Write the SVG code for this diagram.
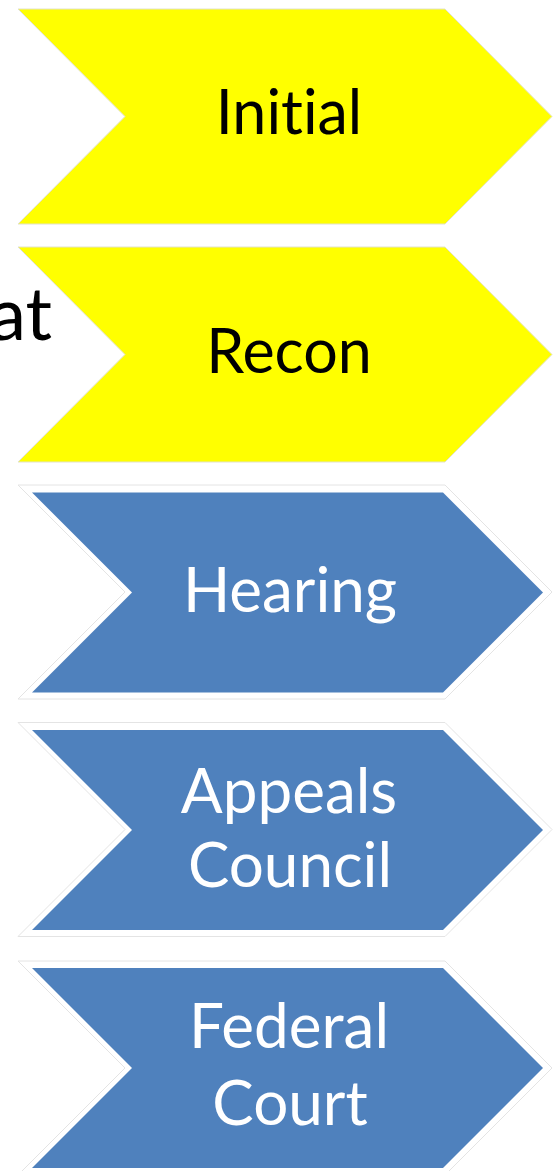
<svg xmlns="http://www.w3.org/2000/svg" xmlns:xlink="http://www.w3.org/1999/xlink" width="560" height="1171" viewBox="0 0 560 1171">
  <style>
    .yel { fill: #FFFF00; stroke: #e2e2c8; stroke-width: 1; }
    .outer { fill: #ffffff; stroke: #e4e4e4; stroke-width: 1; }
    .blue { fill: #4F81BD; }
    .lbl { font-family: Lato, "Open Sans", sans-serif; text-anchor: middle; font-variant-ligatures: none; }
    .dark { fill: #000000; font-size: 61px; }
    .light { fill: #ffffff; font-size: 62px; }
  </style>
  <defs>
    <polygon id="ychev" points="18,-107.5 445,-107.5 552,0 445,107.5 18,107.5 125,0"/>
    <polygon id="ochev" points="18,-107 445,-107 552,0 445,107 18,107 125,0"/>
    <polygon id="bchev" points="32,-100 443,-100 543,0 443,100 32,100 132,0"/>
  </defs>

  <g id="fragment">
    <text class="lbl dark" x="52" y="340" style="text-anchor:end;font-size:74px">at</text>
  </g>

  <g id="node-initial">
    <use xlink:href="#ychev" class="yel" transform="translate(0,116.5)"/>
    <text class="lbl dark" x="289" y="134">Initial</text>
  </g>

  <g id="node-recon">
    <use xlink:href="#ychev" class="yel" transform="translate(0,354.5)"/>
    <text class="lbl dark" x="289" y="373">Recon</text>
  </g>

  <g id="node-hearing">
    <use xlink:href="#ochev" class="outer" transform="translate(0,592)"/>
    <use xlink:href="#bchev" class="blue" transform="translate(0,592.5)"/>
    <text class="lbl light" x="290" y="612">Hearing</text>
  </g>

  <g id="node-appeals">
    <use xlink:href="#ochev" class="outer" transform="translate(0,829.5)"/>
    <use xlink:href="#bchev" class="blue" transform="translate(0,830)"/>
    <text class="lbl light" x="289" y="813">Appeals</text>
    <text class="lbl light" x="290" y="887">Council</text>
  </g>

  <g id="node-federal">
    <use xlink:href="#ochev" class="outer" transform="translate(0,1068)"/>
    <use xlink:href="#bchev" class="blue" transform="translate(0,1068)"/>
    <text class="lbl light" x="289" y="1048">Federal</text>
    <text class="lbl light" x="290" y="1125">Court</text>
  </g>

  <g id="connectors"></g>
</svg>
